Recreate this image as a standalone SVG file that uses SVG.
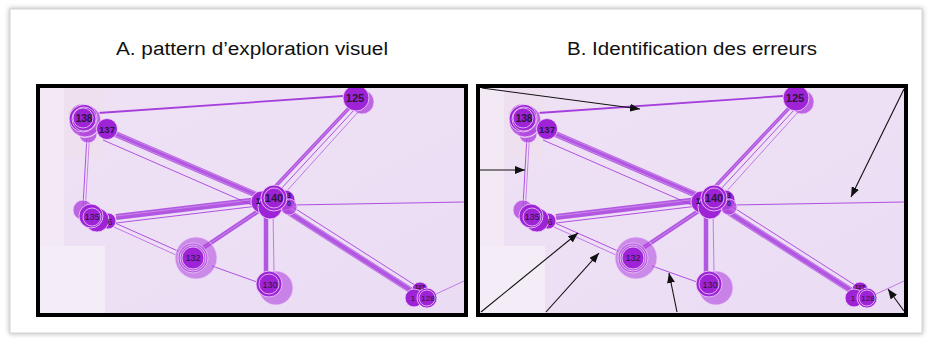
<svg xmlns="http://www.w3.org/2000/svg" xmlns:xlink="http://www.w3.org/1999/xlink" width="929" height="338" viewBox="0 0 929 338">
<style>
.title{font-family:"Liberation Sans","Open Sans",sans-serif;font-size:18px;fill:#111}
.lbl{font-family:"Liberation Sans",sans-serif;font-weight:bold;fill:#2b1640;text-anchor:middle}
.core{fill:#9e22d6;stroke:#f0d8fa;stroke-width:0.8}
.halo{fill:#b045de;fill-opacity:0.8;stroke:#efd6fa;stroke-width:0.7}
.ring{fill:none;stroke:#f4e4fb;stroke-width:0.7}
.thick{stroke:#a235dc;stroke-opacity:0.8;fill:none}
.thin{stroke:#b050e2;stroke-width:1;fill:none}
.hl{stroke:#d9a5f0;stroke-width:0.6;fill:none}
.arrow{stroke:#111;stroke-width:1.1;fill:none;marker-end:url(#ah)}
.frame{fill:none;stroke:#000;stroke-width:4}
</style>
<defs>
<marker id="ah" viewBox="0 0 10 8" refX="10" refY="4" markerWidth="10" markerHeight="8" markerUnits="userSpaceOnUse" orient="auto">
<path d="M0,0 L10,4 L0,8 Z" fill="#111"/>
</marker>
<linearGradient id="bg" x1="0" y1="0" x2="1" y2="1">
<stop offset="0" stop-color="#f0e2f5"/>
<stop offset="1" stop-color="#eadcf3"/>
</linearGradient>
<filter id="sh" x="-5%" y="-5%" width="110%" height="110%">
<feGaussianBlur stdDeviation="2.5"/>
</filter>
<clipPath id="clipA"><rect x="40" y="88" width="424" height="225"/></clipPath>
<g id="photo">
<rect x="40" y="88" width="424" height="225" fill="url(#bg)"/>
<rect x="40" y="88" width="24" height="160" fill="#f3e9f5"/>
<rect x="64" y="88" width="40" height="70" fill="#efe0ef"/>
<rect x="40" y="246" width="65" height="67" fill="#f4edf7"/>
<g id="connectors">
<line class="thin" x1="98" y1="113" x2="343" y2="96" style="stroke-width:1.8;stroke:#a53fdc"/>
<line class="thin" x1="87" y1="135" x2="83" y2="206"/>
<line class="thin" x1="89.5" y1="136" x2="85.5" y2="206" style="stroke:#c585e8"/>
<line class="thick" x1="113" y1="133" x2="261" y2="197" stroke-width="6"/>
<line class="hl" x1="113" y1="131" x2="262" y2="195"/>
<line class="hl" x1="113" y1="135" x2="261" y2="199"/>
<line class="thin" x1="103" y1="140" x2="252" y2="205"/>
<line class="thick" x1="116" y1="217" x2="258" y2="200" stroke-width="6"/>
<line class="hl" x1="116" y1="216" x2="258" y2="199"/>
<line class="thin" x1="116" y1="223" x2="258" y2="206"/>
<line class="thick" x1="350" y1="107" x2="272" y2="190" stroke-width="3.5"/>
<line class="hl" x1="350" y1="107" x2="272" y2="190"/>
<line class="thin" x1="355" y1="109" x2="279" y2="191"/>
<line class="thin" x1="359" y1="111" x2="285" y2="193" style="stroke:#c07ae6"/>
<line class="thick" x1="263" y1="208" x2="203" y2="248" stroke-width="4.5"/>
<line class="hl" x1="263" y1="208" x2="203" y2="248"/>
<line class="thick" x1="266" y1="212" x2="266" y2="272" stroke-width="4.5"/>
<line class="thin" x1="273" y1="212" x2="274" y2="272" style="stroke:#c07ae6"/>
<line class="thick" x1="282" y1="208" x2="415" y2="293" stroke-width="6"/>
<line class="hl" x1="283" y1="206" x2="416" y2="291"/>
<line class="hl" x1="281" y1="210" x2="414" y2="295"/>
<line class="thin" x1="288" y1="204" x2="421" y2="289"/>
<line class="thin" x1="292" y1="205" x2="464" y2="202"/>
<line class="thin" x1="115" y1="223" x2="178" y2="251"/>
<line class="thin" x1="114" y1="227" x2="176" y2="255" style="stroke:#c07ae6"/>
<line class="thin" x1="212" y1="266" x2="257" y2="282"/>
<line class="thin" x1="436" y1="294" x2="464" y2="281" style="stroke:#c07ae6"/>
</g>
<g id="n138">
<circle class="halo" cx="88" cy="134" r="9"/>
<circle class="halo" cx="85" cy="121" r="16"/>
<circle class="core" cx="83" cy="118" r="14"/>
<circle class="ring" cx="83" cy="118" r="10"/>
<circle class="ring" cx="84" cy="119" r="12"/>
<circle class="ring" cx="85" cy="121" r="16.5"/>
<text class="lbl" x="84" y="122" font-size="10">138</text>
</g>
<g id="n137">
<circle class="core" cx="107" cy="129" r="10.5"/>
<text class="lbl" x="107" y="132.5" font-size="9.5">137</text>
</g>
<g id="n125">
<circle class="halo" cx="362" cy="102" r="12"/>
<circle class="core" cx="356" cy="98" r="13"/>
<text class="lbl" x="355" y="102" font-size="11">125</text>
</g>
<g id="n140">
<circle class="core" cx="262" cy="202" r="11"/>
<circle class="core" cx="285" cy="200" r="10"/>
<circle class="halo" cx="289" cy="207" r="8"/>
<circle class="core" cx="270" cy="207" r="12"/>
<circle class="core" cx="274" cy="198" r="13"/>
<circle class="ring" cx="274" cy="198" r="10"/>
<text class="lbl" x="274" y="202" font-size="11">140</text>
<text class="lbl" x="258" y="204" font-size="9">1</text>
<text class="lbl" x="289" y="198" font-size="7">3</text>
<text class="lbl" x="289" y="206" font-size="7">0</text>
</g>
<g id="n135">
<circle class="halo" cx="83" cy="210" r="10"/>
<circle class="core" cx="108" cy="221" r="8"/>
<circle class="core" cx="97" cy="220" r="12"/>
<circle class="core" cx="91" cy="216" r="12"/>
<circle class="ring" cx="92" cy="217" r="9"/>
<text class="lbl" x="92" y="220" font-size="9" style="font-weight:normal">135</text>
<text class="lbl" x="110" y="225" font-size="9" style="font-weight:normal">6</text>
</g>
<g id="n132">
<circle class="halo" cx="196" cy="258" r="21" style="fill-opacity:0.55"/>
<circle class="halo" cx="193" cy="258" r="15"/>
<circle class="core" cx="193" cy="258" r="11"/>
<circle class="ring" cx="193" cy="258" r="13"/>
<text class="lbl" x="193" y="261" font-size="9" style="font-weight:normal">132</text>
</g>
<g id="n130">
<circle class="halo" cx="276" cy="288" r="17" style="fill-opacity:0.6"/>
<circle class="core" cx="269" cy="284" r="13"/>
<circle class="ring" cx="269" cy="284" r="10"/>
<text class="lbl" x="270" y="287.5" font-size="9" style="font-weight:normal">130</text>
</g>
<g id="n128">
<circle class="core" cx="420" cy="290" r="8"/>
<circle class="core" cx="414" cy="298" r="9"/>
<circle class="core" cx="427" cy="298" r="10"/>
<circle class="ring" cx="427" cy="298" r="8"/>
<text class="lbl" x="420" y="289" font-size="6">127</text>
<text class="lbl" x="413" y="301" font-size="8" style="font-weight:normal">1</text>
<text class="lbl" x="428" y="301" font-size="8" style="font-weight:normal">128</text>
</g>
</g>
</defs>
<rect x="9" y="8" width="914" height="326" fill="#bbb" filter="url(#sh)"/>
<rect x="10" y="9" width="912" height="324" fill="#fff" stroke="#d4d4d4" stroke-width="1"/>
<text class="title" x="116" y="55" textLength="272" lengthAdjust="spacingAndGlyphs">A. pattern d’exploration visuel</text>
<text class="title" x="567" y="55" textLength="250" lengthAdjust="spacingAndGlyphs">B. Identification des erreurs</text>
<g id="panelA" clip-path="url(#clipA)">
<use xlink:href="#photo"/>
</g>
<rect class="frame" x="38" y="86" width="428" height="229"/>
<g id="panelB" transform="translate(440,0)" clip-path="url(#clipA)">
<use xlink:href="#photo"/>
</g>
<rect class="frame" x="478" y="86" width="428" height="229"/>
<g id="arrows">
<line class="arrow" x1="482" y1="88" x2="640" y2="109"/>
<line class="arrow" x1="480" y1="170" x2="525" y2="170"/>
<line class="arrow" x1="904" y1="89" x2="851" y2="197"/>
<line class="arrow" x1="481" y1="312" x2="578" y2="233"/>
<line class="arrow" x1="546" y1="312" x2="599" y2="253"/>
<line class="arrow" x1="677" y1="312" x2="669" y2="273"/>
<line class="arrow" x1="904" y1="311" x2="888" y2="289"/>
</g>
</svg>
